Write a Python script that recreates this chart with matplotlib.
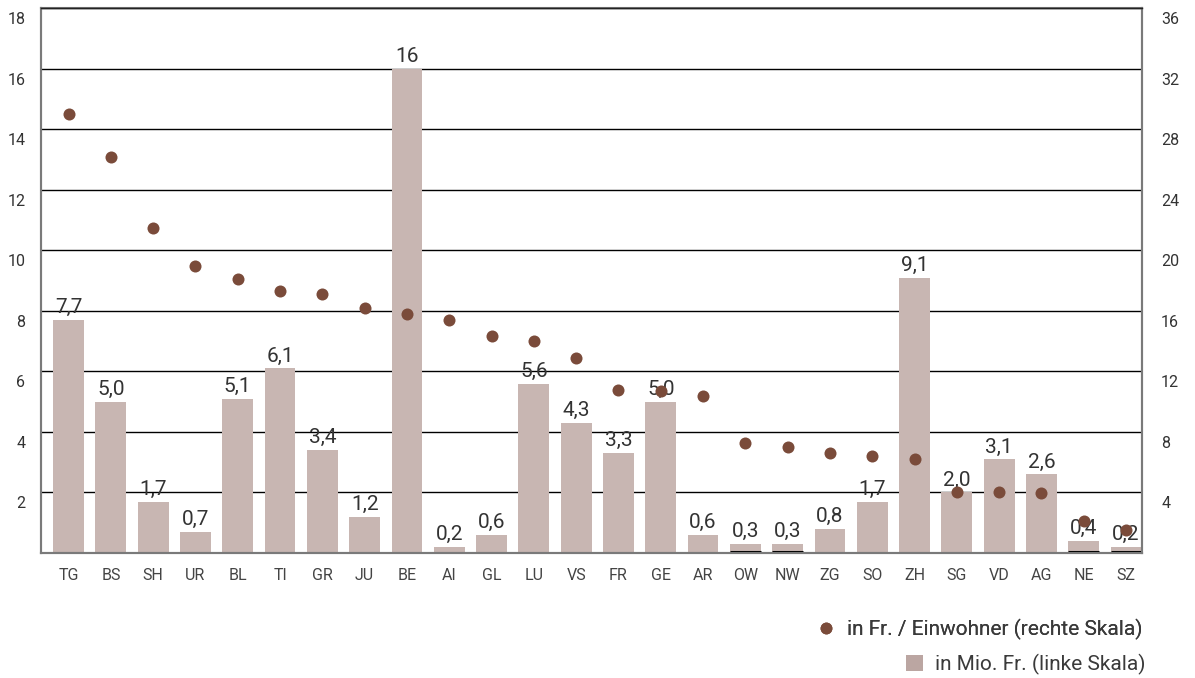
import matplotlib
matplotlib.use("Agg")
import matplotlib.pyplot as plt
import matplotlib.transforms as mtransforms
from matplotlib.lines import Line2D
from matplotlib.patches import Patch

# Kantone, Betrag in Mio. Fr. (linke Skala) und in Fr. pro Einwohner (rechte Skala)
cantons = ["TG", "BS", "SH", "UR", "BL", "TI", "GR", "JU", "BE", "AI", "GL", "LU", "VS",
           "FR", "GE", "AR", "OW", "NW", "ZG", "SO", "ZH", "SG", "VD", "AG", "NE", "SZ"]
mio_fr = [7.7, 5.0, 1.7, 0.7, 5.1, 6.1, 3.4, 1.2, 16, 0.2, 0.6, 5.6, 4.3,
          3.3, 5.0, 0.6, 0.3, 0.3, 0.8, 1.7, 9.1, 2.0, 3.1, 2.6, 0.4, 0.2]
fr_per_head = [29.0, 26.2, 21.5, 19.0, 18.1, 17.3, 17.1, 16.2, 15.8, 15.4, 14.35, 14.0, 12.9,
               10.75, 10.7, 10.4, 7.25, 7.0, 6.6, 6.4, 6.2, 4.0, 4.0, 3.95, 2.1, 1.5]
# these cantons are shown with a black base line under the bar
underlined = ["OW", "NW", "NE", "SZ"]

left_ticks = list(range(2, 19, 2))
right_ticks = list(range(4, 37, 4))

bar_color = "#c8b6b2"
dot_color = "#7a4b3a"
frame_color = "#7a7a7a"
font = ["Roboto", "DejaVu Sans"]

plt.rcParams["font.family"] = font

fig = plt.figure(figsize=(11.95, 6.78), dpi=100)
ax = fig.add_axes([0.034, 0.1844, 0.9554 - 0.034, 0.9875 - 0.1844])
ax2 = ax.twinx()

x = list(range(len(cantons)))
width = 0.73

ax.set_axisbelow(True)
ax.grid(axis="y", color="black", linewidth=1.0)
ax.bar(x, mio_fr, width=width, color=bar_color, zorder=2)
for i, name in enumerate(cantons):
    if name in underlined:
        ax.hlines(0.04, i - width / 2, i + width / 2, color="black", linewidth=2.2, zorder=3)

for i, v in enumerate(mio_fr):
    txt = "16" if v == 16 else f"{v:.1f}".replace(".", ",")
    ax.annotate(txt, (i, v), xytext=(0, 2), textcoords="offset points",
                ha="center", va="bottom", fontsize=15, color="#333333", zorder=4)

ax2.scatter(x, fr_per_head, s=75, color=dot_color, zorder=5, linewidths=0)

ax.set_xlim(-0.66, len(cantons) - 0.63)
ax.set_ylim(0, 18)
ax2.set_ylim(0, 36)
ax.set_yticks(left_ticks)
ax2.set_yticks(right_ticks)
ax.set_xticks(x)
ax.set_xticklabels(cantons)

ax.tick_params(axis="x", length=0, pad=11, labelsize=11.5, labelcolor="#444444")
ax.tick_params(axis="y", length=0, pad=11, labelsize=11.5, labelcolor="#333333")
ax2.tick_params(axis="y", length=0, pad=14, labelsize=11.5, labelcolor="#333333")

# y labels sit a little below their grid lines
shift = mtransforms.ScaledTranslation(0, -0.1, fig.dpi_scale_trans)
for lab in ax.get_yticklabels() + ax2.get_yticklabels():
    lab.set_transform(lab.get_transform() + shift)

for a in (ax, ax2):
    for spine in a.spines.values():
        spine.set_color(frame_color)
        spine.set_linewidth(1.5)
ax2.spines["top"].set_color("#222222")
ax2.spines["top"].set_linewidth(1.0)

dot_handle = Line2D([], [], linestyle="none", marker="o", markersize=8.5,
                    markerfacecolor=dot_color, markeredgewidth=0)
bar_handle = Patch(facecolor="#bba6a2", edgecolor="none")

leg1 = fig.legend(handles=[dot_handle], labels=["in Fr. / Einwohner (rechte Skala)"],
                  loc="center right", bbox_to_anchor=(0.9715, 0.072), frameon=False,
                  fontsize=15, handlelength=0.8, handletextpad=0.6,
                  labelcolor="#3a3a3a")
leg2 = fig.legend(handles=[bar_handle], labels=["in Mio. Fr. (linke Skala)"],
                  loc="center right", bbox_to_anchor=(0.974, 0.020), frameon=False,
                  fontsize=15, handlelength=0.85, handleheight=0.85, handletextpad=0.55,
                  labelcolor="#3a3a3a")
fig.add_artist(leg1)

fig.savefig("out.png", dpi=100, facecolor="white")
